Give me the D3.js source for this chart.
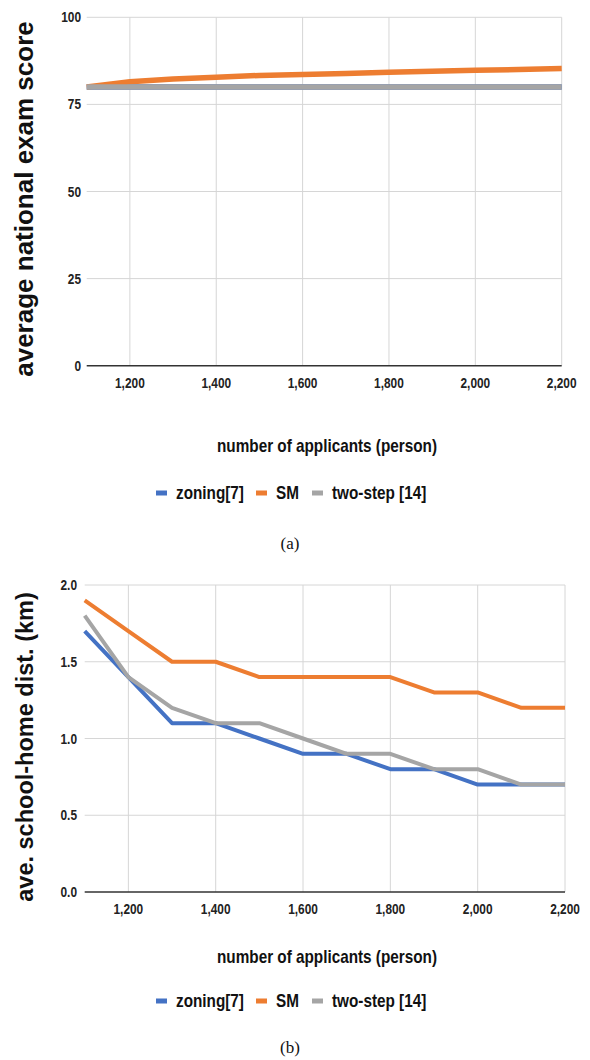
<!DOCTYPE html>
<html>
<head>
<meta charset="utf-8">
<style>
  body { margin: 0; background: #fff; }
  svg { display: block; }
  .grid line { stroke: #d6d6d6; stroke-width: 1px; }
  .tick-label { font-family: "Liberation Sans", Arial, sans-serif; font-weight: bold; font-size: 14.5px; fill: #222; }
  .ytitle { font-family: "Liberation Sans", Arial, sans-serif; font-weight: bold; fill: #111; }
  .xtitle, .legend-text { font-family: "Liberation Sans", Arial, sans-serif; font-weight: bold; font-size: 18px; fill: #111; }
  .caption { font-family: "Liberation Serif", "Times New Roman", serif; font-size: 17px; fill: #111; }
</style>
</head>
<body>
<svg id="chart" width="590" height="1060"></svg>
<script src="https://cdn.jsdelivr.net/npm/d3@7"></script>
<script>
// applicants on the x axis
var applicants = [1100, 1200, 1300, 1400, 1500, 1600, 1700, 1800, 1900, 2000, 2100, 2200];
var xTicks = [1200, 1400, 1600, 1800, 2000, 2200];

var seriesNames = ["zoning[7]", "SM", "two-step [14]"];
var seriesColors = ["#4472c4", "#ed7d31", "#a5a5a5"];

// (a) average national exam score
var scoreZoning  = [80, 80, 80, 80, 80, 80, 80, 80, 80, 80, 80, 80];
var scoreSM      = [80, 81.5, 82.3, 82.8, 83.3, 83.6, 83.9, 84.2, 84.5, 84.8, 85, 85.3];
var scoreTwoStep = [80, 80, 80, 80, 80, 80, 80, 80, 80, 80, 80, 80];
var scoreTicks = [0, 25, 50, 75, 100];

// (b) average school-home distance (km)
var distZoning  = [1.7, 1.4, 1.1, 1.1, 1.0, 0.9, 0.9, 0.8, 0.8, 0.7, 0.7, 0.7];
var distSM      = [1.9, 1.7, 1.5, 1.5, 1.4, 1.4, 1.4, 1.4, 1.3, 1.3, 1.2, 1.2];
var distTwoStep = [1.8, 1.4, 1.2, 1.1, 1.1, 1.0, 0.9, 0.9, 0.8, 0.8, 0.7, 0.7];
var distTicks = [0, 0.5, 1.0, 1.5, 2.0];

var svg = d3.select("#chart");

function drawChart(cfg) {
    var g = svg.append("g");

    var x = d3.scaleLinear().domain([1100, 2200]).range([cfg.left, cfg.right]);
    var y = d3.scaleLinear().domain(cfg.yDomain).range([cfg.bottom, cfg.top]);

    // horizontal grid (not the baseline)
    g.append("g").attr("class", "grid")
        .selectAll("line")
        .data(cfg.yTicks.filter(function (d) { return d !== 0; }))
        .enter().append("line")
        .attr("x1", cfg.left).attr("x2", cfg.right)
        .attr("y1", function (d) { return y(d); })
        .attr("y2", function (d) { return y(d); });

    // vertical grid
    g.append("g").attr("class", "grid")
        .selectAll("line")
        .data(xTicks)
        .enter().append("line")
        .attr("x1", function (d) { return x(d); })
        .attr("x2", function (d) { return x(d); })
        .attr("y1", cfg.top).attr("y2", cfg.bottom);

    // baseline
    g.append("line")
        .attr("x1", cfg.left).attr("x2", cfg.right)
        .attr("y1", y(0)).attr("y2", y(0))
        .attr("stroke", "#333").attr("stroke-width", 1.5);

    // y tick labels
    g.selectAll(".ylab")
        .data(cfg.yTicks)
        .enter().append("text")
        .attr("class", "tick-label")
        .attr("text-anchor", "end")
        .attr("dy", "0.35em")
        .attr("transform", function (d) {
            return "translate(" + cfg.yLabelX + "," + y(d) + ") scale(0.82,1)";
        })
        .text(cfg.yFormat);

    // x tick labels
    g.selectAll(".xlab")
        .data(xTicks)
        .enter().append("text")
        .attr("class", "tick-label")
        .attr("text-anchor", "middle")
        .attr("dy", "0.35em")
        .attr("transform", function (d) {
            return "translate(" + x(d) + "," + cfg.xLabelY + ") scale(0.82,1)";
        })
        .text(d3.format(","));

    // lines
    var line = d3.line()
        .x(function (d) { return x(d[0]); })
        .y(function (d) { return y(d[1]); });

    cfg.series.forEach(function (vals, i) {
        g.append("path")
            .datum(applicants.map(function (a, j) { return [a, vals[j]]; }))
            .attr("fill", "none")
            .attr("stroke", seriesColors[i])
            .attr("stroke-width", cfg.lineWidth)
            .attr("stroke-linejoin", "round")
            .attr("d", line);
    });

    // y title
    g.append("text")
        .attr("class", "ytitle")
        .attr("text-anchor", "middle")
        .attr("font-size", cfg.yTitleSize)
        .attr("transform", "translate(33," + cfg.yTitleY + ") rotate(-90)")
        .text(cfg.yTitle);

    // x title
    g.append("text")
        .attr("class", "xtitle")
        .attr("text-anchor", "middle")
        .attr("dy", "0.35em")
        .attr("transform", "translate(327," + cfg.xTitleY + ") scale(0.85,1)")
        .text("number of applicants (person)");

    // legend
    var legX = [156, 256, 312];
    var leg = g.selectAll(".leg")
        .data(seriesNames)
        .enter().append("g")
        .attr("transform", function (d, i) { return "translate(" + legX[i] + "," + cfg.legendY + ")"; });
    leg.append("rect")
        .attr("x", 0).attr("y", -2.5)
        .attr("width", 11).attr("height", 5)
        .attr("fill", function (d, i) { return seriesColors[i]; });
    leg.append("text")
        .attr("class", "legend-text")
        .attr("dy", "0.35em")
        .attr("transform", "translate(20,0) scale(0.85,1)")
        .text(function (d) { return d; });

    // caption
    g.append("text")
        .attr("class", "caption")
        .attr("text-anchor", "middle")
        .attr("x", 290).attr("y", cfg.captionY)
        .attr("dy", "0.35em")
        .text(cfg.caption);
}

drawChart({
    left: 86.7, right: 561.7, top: 17.3, bottom: 365.7,
    yDomain: [0, 100], yTicks: scoreTicks, yFormat: d3.format("d"),
    yLabelX: 81, xLabelY: 383,
    series: [scoreZoning, scoreSM, scoreTwoStep], lineWidth: 5.5,
    yTitle: "average national exam score", yTitleSize: 26, yTitleY: 199,
    xTitleY: 446, legendY: 493, captionY: 543, caption: "(a)"
});

drawChart({
    left: 84.7, right: 565, top: 585, bottom: 892,
    yDomain: [0, 2], yTicks: distTicks, yFormat: d3.format(".1f"),
    yLabelX: 77, xLabelY: 909,
    series: [distZoning, distSM, distTwoStep], lineWidth: 4,
    yTitle: "ave. school-home dist. (km)", yTitleSize: 23.5, yTitleY: 747,
    xTitleY: 957, legendY: 1001, captionY: 1047, caption: "(b)"
});
</script>
</body>
</html>
